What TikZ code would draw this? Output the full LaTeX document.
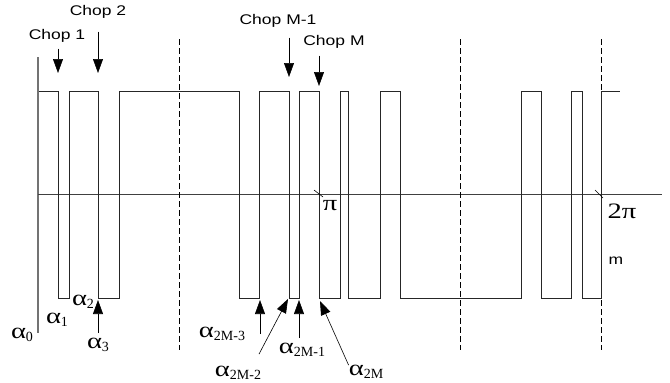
\documentclass[tikz,border=0pt]{standalone}
\usepackage{fontspec}
\setmainfont{Liberation Serif}
\newfontfamily\chopfont{Liberation Sans}
\usetikzlibrary{arrows.meta, positioning}
\tikzstyle{chop}    = [inner sep=0pt, font=\chopfont\fontsize{14}{16}\selectfont]
\tikzstyle{angle}   = [inner sep=0pt]
\tikzstyle{arrow}   = [line width=0.6pt, -{Triangle[length=14pt, width=10pt]}]
\tikzstyle{wave}    = [line width=0.7pt, black!85]
\tikzstyle{period}  = [line width=0.7pt, dash pattern=on 6pt off 3pt]
\newcommand{\wide}[1]{\scalebox{1.25}[1]{#1}}
\newcommand{\alab}[1]{\scalebox{1.3}[1]{\fontsize{22}{22}\selectfont α}\raisebox{-3pt}{\fontsize{14}{14}\selectfont #1}}
\newcommand{\pilab}[1]{\scalebox{1.3}[1]{\fontsize{22}{22}\selectfont #1}}
\begin{document}
\begin{tikzpicture}[x=1pt, y=-1pt]
    \useasboundingbox (0,0) rectangle (670,383);

    % axes
    \draw [line width=1.2pt, black!55] (38,57) -- (38,333);
    \draw [line width=0.8pt, black!75] (38,194) -- (662,194);

    % quarter-period lines
    \foreach \x in {179, 460, 601}
        \draw [period] (\x,39) -- (\x,350);

    % chopped waveform
    \draw [wave] (39,91)
        foreach \a/\b in {58/69, 98/119, 239/259, 289/299, 319/340,
                          348/380, 400/521, 541/571, 582/601}
            { -- (\a,91) -- (\a,298) -- (\b,298) -- (\b,91) }
        -- (620,91);

    % ticks at pi and 2 pi
    \draw [line width=0.6pt] (314,190) -- (323,197);
    \draw [line width=0.6pt] (595,190) -- (603,198);
    \node (pi)    [angle] at (330,206) {\pilab{π}};
    \node (twopi) [angle] at (622,211) {\pilab{2π}};
    \node (m)     [chop] at (616,261) {\wide{m}};

    % arrow tips
    \coordinate (t1)   at (58,73);
    \coordinate (t2)   at (98,73);
    \coordinate (tM1)  at (289,77);
    \coordinate (tM)   at (319,86);
    \coordinate (t3)   at (98,300);
    \coordinate (t2M3) at (260,300);
    \coordinate (t2M2) at (288,299);
    \coordinate (t2M1) at (299,300);
    \coordinate (t2M)  at (320,301);

    % chop labels
    \node (chop1)  [chop] at (57,36)  {\wide{Chop 1}};
    \node (chop2)  [chop] at (98,12)  {\wide{Chop 2}};
    \node (chopM1) [chop] at (278,21) {\wide{Chop M-1}};
    \node (chopM)  [chop] at (334,42) {\wide{Chop M}};

    \draw [arrow, shorten <=6pt]  (chop1.south -| t1)   -- (t1);
    \draw [arrow, shorten <=13pt] (chop2.south -| t2)   -- (t2);
    \draw [arrow, shorten <=10pt] (chopM1.south -| tM1) -- (tM1);
    \draw [arrow, shorten <=7pt]  (chopM.south -| tM)   -- (tM);

    % switching angles
    \node (a0)   [angle] at (22,335)  {\alab{0}};
    \node (a1)   [angle] at (57,320)  {\alab{1}};
    \node (a2)   [angle] at (83,302)  {\alab{2}};
    \node (a3)   [angle] at (98,345)  {\alab{3}};
    \node (a2M3) [angle] at (222,334) {\alab{2M-3}};
    \node (a2M2) [angle] at (238,373) {\alab{2M-2}};
    \node (a2M1) [angle] at (302,350) {\alab{2M-1}};
    \node (a2M)  [angle] at (366,372) {\alab{2M}};

    \draw [arrow, shorten <=5pt] (a3.north -| t3)     -- (t3);
    \draw [arrow]                (a2M3.east -| t2M3)  -- (t2M3);
    \draw [arrow]                ([shift={(21,-12)}]a2M2.north) -- (t2M2);
    \draw [arrow, shorten <=5pt] (a2M1.north -| t2M1) -- (t2M1);
    \draw [arrow]                (a2M.north west)     -- (t2M);
\end{tikzpicture}
\end{document}
